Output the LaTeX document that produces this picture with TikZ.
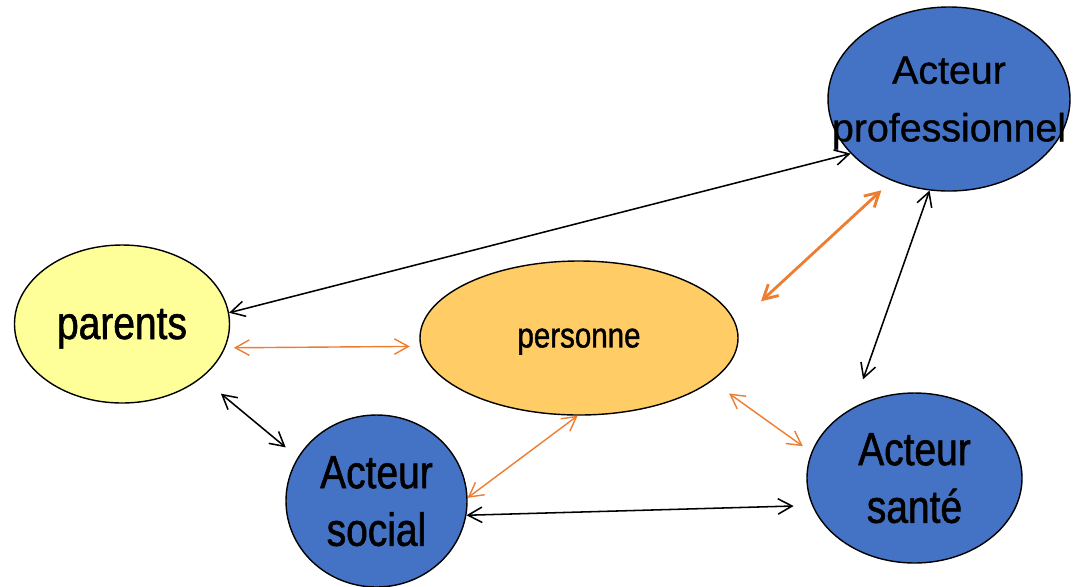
\documentclass[tikz,border=0pt]{standalone}
\usepackage{fontspec}
\setmainfont{Liberation Sans}[FakeBold=0.8]
\newfontfamily\narrowfont[FakeStretch=0.84,FakeBold=1.2]{Liberation Sans}
\newfontfamily\profont[FakeBold=0.8]{Liberation Sans}
\usetikzlibrary{shapes.geometric,arrows.meta}
\definecolor{bleuact}{HTML}{4472C4}
\definecolor{jaunepar}{HTML}{FFFF99}
\definecolor{orpers}{HTML}{FFCC66}
\definecolor{orfleche}{HTML}{ED7D31}
\begin{document}
\begin{tikzpicture}[>={Straight Barb[length=10pt,width=11pt]},line join=round,line cap=round,
	bulle/.style={ellipse,draw=black,line width=1pt,inner sep=0pt,text depth=0pt,align=center},
	acteur/.style={bulle,fill=bleuact,font=\narrowfont\fontsize{33}{41}\selectfont},
	noir/.style={<->,draw=black,line width=1.1pt},
	orange/.style={<->,draw=orfleche,line width=1pt}]
		\useasboundingbox (0,0) rectangle (26.825,-14.65);
		% les bulles
		\node[bulle,fill=jaunepar,minimum width=5.375cm,minimum height=3.95cm,font=\narrowfont\fontsize{33}{41}\selectfont] (parents) at (3.05,-8.1) {parents};
		\node[bulle,fill=orpers,minimum width=7.95cm,minimum height=3.85cm,font=\narrowfont\fontsize{25}{30}\selectfont] (personne) at (14.475,-8.45) {personne};
		\node[bulle,fill=bleuact,minimum width=6.05cm,minimum height=4.6cm,font=\profont\fontsize{28}{41}\selectfont] (pro) at (23.725,-2.475) {Acteur\\\makebox[0pt]{professionnel}};
		\node[acteur,minimum width=4.525cm,minimum height=4.3cm] (social) at (9.4125,-12.525) {Acteur\\social};
		\node[acteur,minimum width=5.375cm,minimum height=4.25cm] (sante) at (22.8625,-11.95) {Acteur\\santé};
		% les liens
		\draw[noir] (parents.6) -- (pro.209);
		\draw[orange,shorten <=0.215cm,shorten >=0.26cm] (parents.-13.2) -- (personne.183.6);
		\draw[orange,line width=2pt,shorten <=0.845cm,shorten >=0.35cm] (personne.5.65) -- (pro.235.8);
		\draw[noir,shorten >=0.745cm] (pro.258.3) -- (sante.131.2);
		\draw[orange,shorten <=0.53cm,shorten >=0.26cm] (personne.-18) -- (sante.166.2);
		\draw[orange] (personne.269) -- (social.2);
		\draw[noir,shorten >=0.46cm] (social.-9.7) -- (sante.195.8);
		\draw[noir,shorten <=0.62cm,shorten >=0.39cm] (parents.-34.1) -- (social.151.3);
		\end{tikzpicture}
\end{document}
